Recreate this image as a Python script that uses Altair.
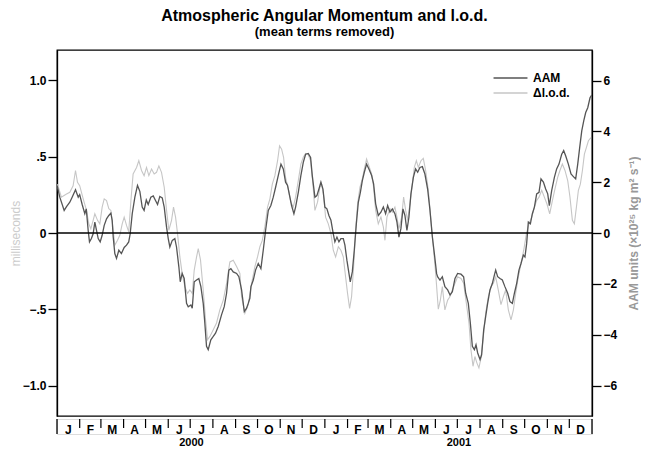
import altair as alt
import pandas as pd

# ---- data ----
aam_day = [0.7, 3.8, 9.8, 13, 17.5, 20.7, 25.3, 29, 31, 34.4, 38, 40, 42.6, 44.4, 47, 49.4, 51.7, 54, 56.3, 59,
           61.7, 64.5, 67.7, 70.8, 73.6, 75.4, 76.8, 79, 81.3, 84.5, 88, 91.8, 95, 98, 100, 102.8, 106.4, 110,
           113.2, 116.4, 119, 122, 124.6, 128.2, 131.5, 134.6, 137.4, 140.5, 143.8, 146.5, 149.7, 152, 154.2,
           157.5, 161, 163.3, 166.5, 168.4, 171, 173.8, 177, 179.3, 182.9, 184.8, 187.5, 190.7, 193.8, 196.6,
           199.8, 202, 204.3, 206.6, 210.2, 213.5, 216.6, 220.3, 224.8, 228.5, 231.7, 234.8, 237.6, 240.8,
           245.4, 248.5, 252.2, 255.9, 259, 261.3, 263.5, 265, 268.2, 271.3, 275, 278.6, 281.8, 285, 288.7,
           292.2, 295.5, 298.7, 302.3, 306, 309.2, 312.3, 315, 318.2, 320.5, 323.7, 326, 329.7, 333.2, 336.5,
           339.7, 343.3, 346.5, 348.8, 352.4, 355.1, 357.9, 360.6, 363.4, 366, 368.8, 371.5, 374.3, 377.5,
           379.7, 382.5, 385.2, 387.9, 391.2, 393.4, 396.1, 398.9, 400.7, 403.5, 406.2, 409, 411.7, 414.5,
           417.2, 419.9, 423, 426.2, 429.9, 432.6, 435.4, 439, 442.6, 445.9, 449, 451.8, 454.9, 458.2, 461.7,
           464.5, 467.2, 469.9, 472.7, 475.4, 478.1, 480.9, 483.6, 486.9, 490, 492.8, 495.9, 499.2, 502.7,
           506.4, 509.6, 512.9, 515.6, 518.7, 520, 523.3, 526.5, 530, 533.8, 537, 540.2, 543.8, 547.4, 552,
           555.6, 558.4, 562, 564.8, 567.5, 570.3, 572.5, 574.8, 578, 580.2, 583, 585.7, 588.4, 591.6, 594.9,
           597.6, 599.4, 602.1, 605.3, 608.5, 612, 615.8, 618.9, 622.2, 625, 628.1, 631.2, 634, 637.2, 639.4,
           641.7, 644, 646.8, 649.5, 652.3, 655.4, 658.6, 661.3, 664.6, 667.7, 670.5, 672.7, 675.9, 679.6,
           682.7, 685.9, 689.6, 692.3, 695, 698.7, 702.3, 705.6, 708.7, 711.5, 714.2, 717, 719.7, 722.4,
           725.2, 728.3, 730.6]
aam_val = [1.80, 1.41, 0.89, 1.04, 1.21, 1.41, 1.70, 1.41, 1.51, 1.12, 0.76, 0.95, 0.10, -0.35, -0.22, -0.03,
           0.43, 0.10, -0.22, -0.35, -0.09, 0.30, 0.56, 0.69, 0.78, 0.50, -0.16, -0.81, -1.00, -0.68, -0.81,
           -0.57, -0.48, -0.35, -0.03, 0.76, 1.41, 1.87, 1.64, 1.02, 0.89, 1.30, 1.12, 1.41, 1.46, 1.28, 1.12,
           1.44, 1.38, 1.02, 0.23, -0.22, -0.55, -0.29, -0.22, -0.55, -1.33, -1.92, -1.59, -1.79, -2.77, -2.90,
           -2.83, -2.96, -1.92, -1.85, -1.79, -2.11, -2.77, -3.55, -4.46, -4.59, -4.20, -4.07, -3.94, -3.68,
           -3.22, -2.90, -2.37, -1.46, -1.40, -1.53, -1.59, -1.72, -2.24, -3.09, -2.96, -2.77, -2.57, -2.11,
           -1.85, -1.46, -1.20, -1.40, -0.68, 0.10, 0.89, 1.08, 1.41, 1.80, 2.26, 2.71, 2.52, 2.00, 1.87, 1.41,
           1.08, 0.76, 1.02, 1.60, 2.26, 2.78, 3.10, 3.13, 2.97, 2.26, 1.41, 1.47, 1.73, 2.00, 1.73, 1.02, 0.95,
           0.69, 0.50, -0.03, -0.35, -0.16, -0.35, -0.22, -0.22, -0.48, -1.07, -1.59, -1.92, -1.53, -0.68, 0.36,
           1.21, 1.60, 2.06, 2.39, 2.71, 2.52, 2.26, 1.93, 1.15, 0.69, 0.82, 1.02, 0.76, 1.08, 0.82, 0.95, 0.76,
           0.43, -0.16, 0.17, 0.95, 0.69, 0.10, 0.63, 1.54, 2.19, 2.52, 2.39, 2.58, 2.61, 2.32, 1.73, 0.90,
           -0.16, -0.81, -1.60, -1.72, -1.85, -1.72, -2.11, -2.24, -2.44, -2.31, -1.79, -1.59, -1.62, -1.72,
           -2.37, -2.77, -3.55, -4.46, -4.59, -4.40, -4.72, -4.98, -4.79, -3.81, -3.29, -2.77, -2.24, -1.98,
           -1.66, -1.46, -1.72, -1.79, -1.85, -2.11, -2.37, -2.70, -2.77, -2.37, -1.98, -1.46, -1.20, -0.87,
           -0.94, -0.42, 0.43, 0.36, 0.76, 1.02, 1.54, 1.60, 2.13, 2.00, 1.73, 1.54, 1.08, 1.67, 2.19, 2.52,
           2.71, 3.10, 3.24, 3.04, 2.71, 2.32, 2.22, 2.13, 2.71, 3.37, 4.02, 4.41, 4.74, 4.93, 5.32, 5.43]

lod_day = [0.7, 6, 13, 17.5, 22, 25.3, 28, 31, 35.8, 40.3, 43.5, 46.2, 49.4, 51.7, 55.4, 58.5, 61.7, 64.5, 67.7,
           70.8, 73.6, 76.8, 79, 82.7, 85.8, 89.1, 91.8, 95, 98, 101, 104, 108.7, 111.8, 115.5, 119, 122.3,
           125.5, 129.2, 132.8, 136, 139.2, 142.8, 146.5, 149.7, 152.8, 156.5, 159.2, 162, 164.7, 167.9, 171,
           174.7, 178.4, 181.5, 184.8, 187.5, 190.7, 193, 196.1, 199.8, 203, 205.7, 208.9, 213.5, 218, 222.5,
           227.2, 231.7, 236.2, 240.8, 245.4, 249.9, 252.2, 256.7, 261.3, 265.9, 270.4, 274, 277.2, 280.5, 284,
           287.7, 290.9, 294.2, 297.7, 301.4, 304.1, 306.9, 309.6, 312.3, 316, 319.6, 322.8, 326, 329.7, 333.2,
           336.5, 339.7, 343.3, 346.5, 349.7, 352.4, 356, 359.2, 361.5, 364.3, 367, 370.7, 374.3, 377.5, 380.7,
           384.4, 387.9, 391.2, 394.3, 397, 399.8, 402.5, 405.3, 408, 410.7, 413.9, 417.2, 419.9, 423, 426.2,
           429.9, 432.6, 435.4, 439, 442.6, 445.9, 448.1, 450.8, 454.9, 458.2, 461.7, 464.5, 467.2, 470.9,
           473.6, 476.4, 479.1, 482.2, 485.5, 488.2, 491, 493.7, 497.3, 500.5, 503.7, 507.4, 510.9, 514.2,
           517.4, 521, 523.8, 526.5, 530, 533.8, 537, 540.2, 543.8, 547.4, 552, 555.6, 559.3, 562.9, 565.6,
           568.4, 571, 573.8, 576.5, 579.3, 582.6, 585.7, 589.4, 593, 596.2, 599.4, 603, 606.6, 609.9, 613,
           616.7, 620.3, 623.6, 626.7, 630.4, 634, 637.7, 641.4, 644.9, 648.6, 652.3, 655.4, 658.6, 662.3,
           665.9, 669.5, 673.2, 676.9, 680.4, 684.1, 687.2, 690.5, 694.1, 697.8, 700.9, 704.2, 706.9, 709.7,
           712.4, 715.1, 717.9, 720.6, 723.3, 726.1, 729.6]
lod_val = [0.32, 0.235, 0.256, 0.267, 0.31, 0.41, 0.333, 0.31, 0.224, 0.148, 0.06, 0.028, 0.083, 0.126, 0.083,
           0.06, 0.17, 0.224, 0.213, 0.159, 0.148, 0.018, -0.08, -0.048, -0.015, 0.06, 0.104, 0.05, 0.007, 0.213,
           0.387, 0.43, 0.474, 0.41, 0.376, 0.43, 0.376, 0.42, 0.387, 0.398, 0.44, 0.398, 0.30, 0.148, 0.018,
           0.083, 0.17, 0.104, -0.004, -0.157, -0.265, -0.352, -0.396, -0.374, -0.396, -0.243, -0.157, -0.102,
           -0.178, -0.374, -0.57, -0.70, -0.678, -0.634, -0.59, -0.504, -0.44, -0.33, -0.19, -0.178, -0.22,
           -0.265, -0.417, -0.526, -0.47, -0.33, -0.22, -0.157, -0.09, -0.048, 0.04, 0.17, 0.224, 0.32, 0.376,
           0.474, 0.572, 0.55, 0.496, 0.365, 0.289, 0.202, 0.17, 0.235, 0.344, 0.452, 0.496, 0.522, 0.513,
           0.474, 0.32, 0.148, 0.202, 0.30, 0.32, 0.246, 0.104, 0.06, -0.004, -0.113, -0.157, -0.09, -0.113,
           -0.157, -0.287, -0.396, -0.494, -0.417, -0.22, 0.018, 0.19, 0.30, 0.354, 0.42, 0.485, 0.44, 0.387,
           0.30, 0.148, 0.06, 0.104, 0.04, -0.048, 0.104, 0.159, 0.137, 0.17, 0.104, 0.028, 0.104, 0.235,
           0.148, 0.083, 0.19, 0.32, 0.43, 0.474, 0.43, 0.474, 0.49, 0.41, 0.28, 0.083, -0.09, -0.265, -0.50,
           -0.44, -0.352, -0.504, -0.44, -0.417, -0.374, -0.33, -0.287, -0.298, -0.33, -0.46, -0.59, -0.765,
           -0.874, -0.81, -0.853, -0.885, -0.82, -0.678, -0.526, -0.417, -0.352, -0.33, -0.287, -0.374, -0.47,
           -0.417, -0.374, -0.504, -0.57, -0.504, -0.396, -0.287, -0.2, -0.113, -0.004, 0.06, 0.104, 0.17,
           0.213, 0.235, 0.28, 0.235, 0.19, 0.126, 0.213, 0.289, 0.365, 0.41, 0.452, 0.41, 0.344, 0.235, 0.083,
           0.06, 0.17, 0.28, 0.32, 0.41, 0.517, 0.56, 0.605, 0.626]

# calendar: day number of each month start, 2000-01-01 .. 2002-01-01
month_start = [0, 31, 60, 91, 121, 152, 182, 213, 244, 274, 305, 335,
               366, 397, 425, 456, 486, 517, 547, 578, 609, 639, 670, 700, 731]
month_letters = ["J", "F", "M", "A", "M", "J", "J", "A", "S", "O", "N", "D"] * 2
years = ["2000", "2001"]
year_mid = [183, 548.5]
series_names = ["AAM", "\u0394l.o.d."]

FONT = "Liberation Sans"
W, H = 535, 366

aam_df = pd.DataFrame({"day": aam_day, "value": aam_val, "series": series_names[0]})
lod_df = pd.DataFrame({"day": lod_day, "value": lod_val, "series": series_names[1]})
zero_df = pd.DataFrame({"z": [0]})

xscale = alt.Scale(domain=[0, 731], nice=False, zero=False)
color = alt.Color(
    "series:N",
    scale=alt.Scale(domain=series_names, range=["#555555", "#c6c6c6"]),
    legend=alt.Legend(
        title=None, orient="none", legendX=447, legendY=21.5, padding=0,
        symbolType="M-3,0H3", symbolSize=128, symbolStrokeWidth=1.3,
        labelFont=FONT, labelFontSize=12, labelFontWeight="bold", labelColor="black",
        labelOffset=16, rowPadding=2,
    ),
)

axis_common = dict(
    grid=False, domainColor="black", domainWidth=1.3, tickColor="black", tickWidth=1.3,
    tickSize=9, labelPadding=2, labelFont=FONT, labelFontSize=12, labelFontWeight="bold",
    labelColor="black", titleFont=FONT, titleFontSize=12,
)

lod_line = alt.Chart(lod_df).mark_line(strokeWidth=1.1, clip=True).encode(
    x=alt.X("day:Q", scale=xscale, axis=None),
    y=alt.Y("value:Q", scale=alt.Scale(domain=[-1.2, 1.2], nice=False),
            axis=alt.Axis(orient="left", values=[-1, -0.5, 0, 0.5, 1],
                          labelExpr="datum.value == 0 ? '0' : (abs(datum.value) == 1 ? format(datum.value, '.1f') : replace(format(datum.value, '.1f'), '0.', '.'))",
                          title="milliseconds", titleColor="#cccccc", titleFontWeight="normal",
                          titlePadding=0, **axis_common)),
    color=color,
)

aam_line = alt.Chart(aam_df).mark_line(strokeWidth=1.3, clip=True).encode(
    x=alt.X("day:Q", scale=xscale, axis=None),
    y=alt.Y("value:Q", scale=alt.Scale(domain=[-7.2, 7.2], nice=False),
            axis=alt.Axis(orient="right", values=[-6, -4, -2, 0, 2, 4, 6], format="d",
                          title="AAM units (\u00d710\u00b2\u2075 kg m\u00b2 s\u207b\u00b9)",
                          titleColor="#999999", titleFontWeight="bold", titleAngle=270,
                          titlePadding=24, **axis_common)),
    color=color,
)

zero_rule = alt.Chart(zero_df).mark_rule(color="black", strokeWidth=1.5).encode(
    y=alt.Y("z:Q", scale=alt.Scale(domain=[-1.2, 1.2], nice=False), axis=None)
)

main = alt.layer(lod_line, aam_line, zero_rule).resolve_scale(y="independent").properties(
    width=W, height=H, view=alt.ViewBackground(stroke="black", strokeWidth=1.3)
)

# month strip below the plot
inner_df = pd.DataFrame({"day": month_start[1:-1]})
edge_df = pd.DataFrame({"day": [month_start[0], month_start[-1]]})
letters_df = pd.DataFrame({
    "mid": [(month_start[i] + month_start[i + 1]) / 2 for i in range(24)],
    "letter": month_letters,
})

year_axis = alt.Axis(values=year_mid,
                     labelExpr=f"datum.value < 366 ? '{years[0]}' : '{years[1]}'",
                     ticks=False, domain=False, grid=False, title=None,
                     labelFont=FONT, labelFontSize=11, labelFontWeight="bold", labelColor="black",
                     labelPadding=2)

tick_rules = alt.Chart(inner_df).mark_rule(color="black", strokeWidth=1.2).encode(
    x=alt.X("day:Q", scale=xscale, axis=year_axis), y=alt.value(0), y2=alt.value(9)
)
edge_rules = alt.Chart(edge_df).mark_rule(color="black", strokeWidth=1.3).encode(
    x=alt.X("day:Q", scale=xscale), y=alt.value(0), y2=alt.value(15)
)
letters = alt.Chart(letters_df).mark_text(font=FONT, fontSize=12, fontWeight="bold",
                                          baseline="middle", color="black").encode(
    x=alt.X("mid:Q", scale=xscale), y=alt.value(10.5), text="letter:N"
)
strip = alt.layer(tick_rules, edge_rules, letters).properties(width=W, height=15)

chart = alt.vconcat(main, strip, spacing=0).resolve_scale(
    color="independent"
).resolve_legend(color="independent").properties(
    title=alt.TitleParams(
        "Atmospheric Angular Momentum and l.o.d.",
        subtitle="(mean terms removed)",
        font=FONT, fontSize=16, fontWeight="bold", color="black",
        subtitleFont=FONT, subtitleFontSize=13, subtitleFontWeight="bold", subtitleColor="black",
        anchor="middle", offset=10, subtitlePadding=2,
    ),
    padding={"left": 0, "top": 0, "right": 0, "bottom": 0},
).configure_view(stroke=None).configure(background="white")

chart.save("out.html", embed_options={"renderer": "svg", "actions": False})
